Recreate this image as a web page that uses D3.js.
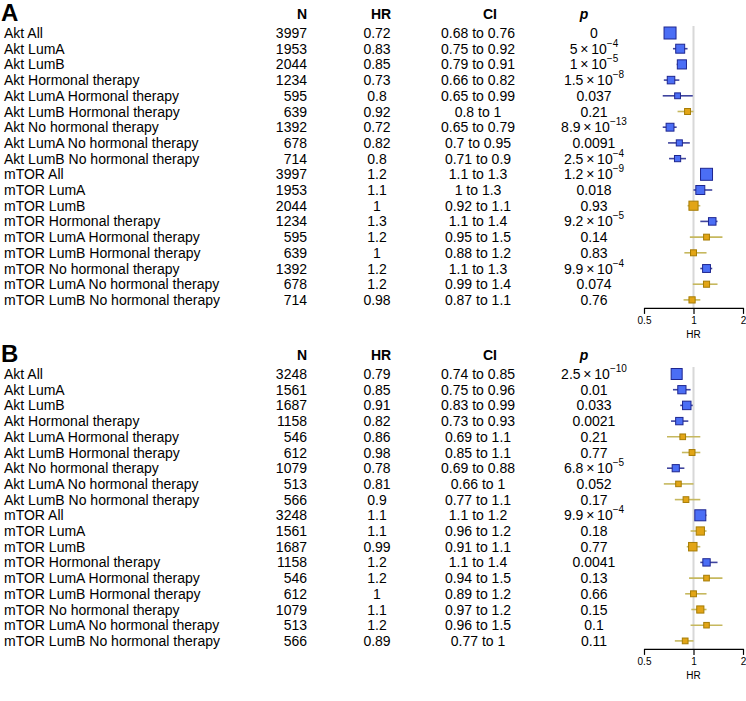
<!DOCTYPE html>
<html><head><meta charset="utf-8">
<script src="https://cdn.jsdelivr.net/npm/d3@7"></script>
<style>
html,body{margin:0;padding:0;background:#fff;}
svg text{font-family:"Liberation Sans",Arial,sans-serif;fill:#000;}
</style></head>
<body>
<svg id="chart" width="746" height="701"></svg>
<script>
// ---------- data ----------
const labels = ["Akt All","Akt LumA","Akt LumB","Akt Hormonal therapy","Akt LumA Hormonal therapy","Akt LumB Hormonal therapy","Akt No hormonal therapy","Akt LumA No hormonal therapy","Akt LumB No hormonal therapy","mTOR All","mTOR LumA","mTOR LumB","mTOR Hormonal therapy","mTOR LumA Hormonal therapy","mTOR LumB Hormonal therapy","mTOR No hormonal therapy","mTOR LumA No hormonal therapy","mTOR LumB No hormonal therapy"];
const headers = ["N","HR","CI","p"];
const axisTicks = [0.5, 1, 2];

const nA  = [3997,1953,2044,1234,595,639,1392,678,714,3997,1953,2044,1234,595,639,1392,678,714];
const hrA = [0.72,0.83,0.85,0.73,0.8,0.92,0.72,0.82,0.8,1.2,1.1,1,1.3,1.2,1,1.2,1.2,0.98];
const loA = [0.68,0.75,0.79,0.66,0.65,0.8,0.65,0.7,0.71,1.1,1,0.92,1.1,0.95,0.88,1.1,0.99,0.87];
const hiA = [0.76,0.92,0.91,0.82,0.99,1,0.79,0.95,0.9,1.3,1.3,1.1,1.4,1.5,1.2,1.3,1.4,1.1];
const pA  = ["0","5×10^-4","1×10^-5","1.5×10^-8","0.037","0.21","8.9×10^-13","0.0091","2.5×10^-4","1.2×10^-9","0.018","0.93","9.2×10^-5","0.14","0.83","9.9×10^-4","0.074","0.76"];

const nB  = [3248,1561,1687,1158,546,612,1079,513,566,3248,1561,1687,1158,546,612,1079,513,566];
const hrB = [0.79,0.85,0.91,0.82,0.86,0.98,0.78,0.81,0.9,1.1,1.1,0.99,1.2,1.2,1,1.1,1.2,0.89];
const loB = [0.74,0.75,0.83,0.73,0.69,0.85,0.69,0.66,0.77,1.1,0.96,0.91,1.1,0.94,0.89,0.97,0.96,0.77];
const hiB = [0.85,0.96,0.99,0.93,1.1,1.1,0.88,1,1.1,1.2,1.2,1.1,1.4,1.5,1.2,1.2,1.5,1];
const pB  = ["2.5×10^-10","0.01","0.033","0.0021","0.21","0.77","6.8×10^-5","0.052","0.17","9.9×10^-4","0.18","0.77","0.0041","0.13","0.66","0.15","0.1","0.11"];

// ---------- drawing ----------
const svg = d3.select("#chart");
const fmtCI = (lo, hi) => `${lo} to ${hi}`;
const pNum = s => {
  if (s.includes("×10^")) { const [m, e] = s.split("×10^"); return +m * Math.pow(10, +e); }
  return +s;
};
const x = d3.scaleLog().domain([0.5, 2]).range([644, 743]);
const boxSize = d3.scaleSqrt().domain([500, 4000]).range([5.5, 12]);

const COL = {nRight: 307, hrMid: 377, ciMid: 478, pMid: 594};
const blueFill = "#4b6ef5", blueStroke = "#1e2690", blueLine = "#3f449e";
const goldFill = "#e2a516", goldStroke = "#a67c05", goldLine = "#c6b85e";

function panel(letter, top, n, hr, lo, hi, p) {
  const g = svg.append("g");
  const rowStep = 15.7;
  const firstRow = top + 33;
  const y = i => firstRow + i * rowStep;

  g.append("text").attr("x", 1).attr("y", top + 21)
    .attr("font-size", 24).attr("font-weight", "bold").text(letter);

  const hy = top + 19;
  g.append("text").attr("x", COL.nRight).attr("y", hy).attr("text-anchor", "end")
    .attr("font-size", 14).attr("font-weight", "bold").text(headers[0]);
  g.append("text").attr("x", COL.hrMid + 4).attr("y", hy).attr("text-anchor", "middle")
    .attr("font-size", 14).attr("font-weight", "bold").text(headers[1]);
  g.append("text").attr("x", COL.ciMid + 12).attr("y", hy).attr("text-anchor", "middle")
    .attr("font-size", 14).attr("font-weight", "bold").text(headers[2]);
  g.append("text").attr("x", COL.pMid - 10).attr("y", hy).attr("text-anchor", "middle")
    .attr("font-size", 14).attr("font-weight", "bold").attr("font-style", "italic").text(headers[3]);

  labels.forEach((lab, i) => {
    const by = y(i) + 5;
    g.append("text").attr("x", 4).attr("y", by).attr("font-size", 14).text(lab);
    g.append("text").attr("x", COL.nRight).attr("y", by).attr("text-anchor", "end").attr("font-size", 14).text(n[i]);
    g.append("text").attr("x", COL.hrMid).attr("y", by).attr("text-anchor", "middle").attr("font-size", 14).text(hr[i]);
    g.append("text").attr("x", COL.ciMid).attr("y", by).attr("text-anchor", "middle").attr("font-size", 14).text(fmtCI(lo[i], hi[i]));
    const t = g.append("text").attr("x", COL.pMid).attr("y", by).attr("text-anchor", "middle").attr("font-size", 14);
    if (p[i].includes("×10^")) {
      const [m, e] = p[i].split("×10^");
      t.append("tspan").text(m + "\u2009×\u200910");
      t.append("tspan").attr("font-size", 10).attr("dy", -7).text(e.replace("-", "\u2212"));
    } else t.text(p[i]);
  });

  // forest
  const axisY = y(17) + 8;
  g.append("line").attr("x1", x(1)).attr("x2", x(1)).attr("y1", y(0) - 7).attr("y2", axisY)
    .attr("stroke", "#d8d8d8").attr("stroke-width", 2);

  labels.forEach((lab, i) => {
    const sig = pNum(p[i]) < 0.05;
    g.append("line").attr("x1", x(lo[i])).attr("x2", x(hi[i])).attr("y1", y(i)).attr("y2", y(i))
      .attr("stroke", sig ? blueLine : goldLine).attr("stroke-width", 1.6);
    const s = boxSize(n[i]);
    g.append("rect").attr("x", x(hr[i]) - s / 2).attr("y", y(i) - s / 2).attr("width", s).attr("height", s)
      .attr("fill", sig ? blueFill : goldFill).attr("stroke", sig ? blueStroke : goldStroke).attr("stroke-width", 1);
  });

  const ax = g.append("g").attr("transform", `translate(0,${axisY})`)
    .call(d3.axisBottom(x).tickValues(axisTicks).tickFormat(d3.format("")).tickSize(6).tickSizeOuter(0));
  ax.select(".domain").attr("stroke", "#000").attr("stroke-width", 1.2);
  ax.selectAll(".tick line").attr("stroke", "#000").attr("stroke-width", 1.2);
  ax.selectAll(".tick text").attr("font-size", 10).attr("font-family", "Liberation Sans, Arial, sans-serif");
  g.append("text").attr("x", x(1)).attr("y", axisY + 30).attr("text-anchor", "middle").attr("font-size", 10).text("HR");
}

panel("A", 0, nA, hrA, loA, hiA, pA);
panel("B", 341, nB, hrB, loB, hiB, pB);
</script>
</body></html>
